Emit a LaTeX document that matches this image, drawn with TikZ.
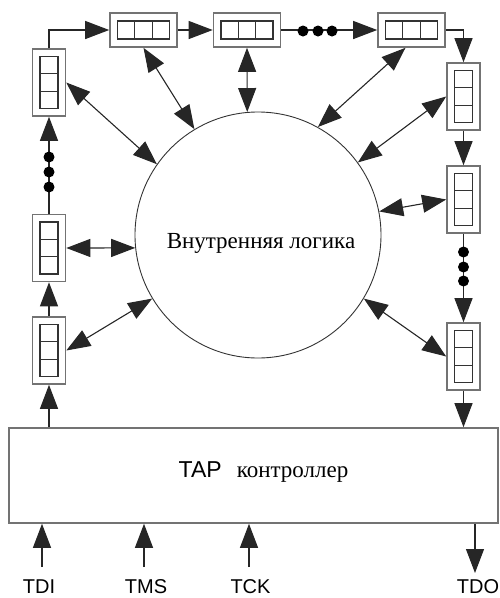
\documentclass[tikz,border=0pt]{standalone}
\usepackage{fontspec}
\setmainfont{Liberation Serif}
\setsansfont{Liberation Sans}
\usetikzlibrary{arrows.meta}
\newcommand\hcells[1]{\foreach \i in {0,1,2}{\draw[cell] ([shift={(-26+17.33*\i,-9)}]#1.center) rectangle ++(17.33,18);}}
\newcommand\vcells[1]{\foreach \i in {0,1,2}{\draw[cell] ([shift={(-9,-26+17.33*\i)}]#1.center) rectangle ++(18,17.33);}}
\begin{document}
\begin{tikzpicture}[x=1pt,y=-1pt,
  line width=1.1pt,
  arr/.style={draw=black!85, -{Triangle[length=24pt,width=18pt]}},
  biarr/.style={draw=black!85, {Triangle[length=24pt,width=18pt]}-{Triangle[length=24pt,width=18pt]}},
  hreg/.style={draw=black!55, line width=1.6pt, minimum width=67pt, minimum height=34pt, inner sep=0pt},
  vreg/.style={draw=black!55, line width=1.6pt, minimum width=33pt, minimum height=67pt, inner sep=0pt},
  cell/.style={draw=black!80, line width=1.2pt},
  dotm/.style={circle, fill=black, inner sep=0pt, minimum size=11pt},
  lbl/.style={font=\sffamily\fontsize{20}{24}\selectfont, anchor=base, inner sep=0pt}
]
\useasboundingbox (0,0) rectangle (499,598);

% core logic
\node[circle, draw=black!80, line width=0.9pt, minimum size=246pt, inner sep=0pt] (core) at (258,235) {};
\node[font=\fontsize{23}{26}\selectfont, anchor=base, inner sep=0pt] (coretext) at (261,248) {Внутренняя логика};

% registers
\node[hreg] (T1) at (143.5,30) {};
\node[hreg] (T2) at (247,30) {};
\node[hreg] (T3) at (411.5,30) {};
\node[vreg] (L1) at (49,82.5) {};
\node[vreg] (L2) at (49,248) {};
\node[vreg] (L3) at (49,350.5) {};
\node[vreg] (R1) at (463.5,96.5) {};
\node[vreg] (R2) at (463.5,199.5) {};
\node[vreg] (R3) at (463.5,356.5) {};
\hcells{T1}\hcells{T2}\hcells{T3}
\vcells{L1}\vcells{L2}\vcells{L3}
\vcells{R1}\vcells{R2}\vcells{R3}

% TAP controller
\node[draw=black!55, line width=1.6pt, minimum width=489pt, minimum height=95pt, inner sep=0pt] (tap) at (253.5,475.5) {};
\node[anchor=base, inner sep=0pt] (taptext) at (263.5,477) {{\sffamily\fontsize{23}{26}\selectfont TAP}\hspace{15pt}{\fontsize{23}{26}\selectfont контроллер}};

% chain
\draw[arr] (L1.north) |- (T1.west);
\draw[arr] (T1.east) -- (T2.west);
\draw[arr] (T2.east) -- (T3.west);
\node[dotm] (hd1) at (303,31) {};
\node[dotm] (hd2) at (318,31) {};
\node[dotm] (hd3) at (332,31) {};
\draw[arr] (T3.east) -| (R1.north);
\draw[arr] (R1.south) -- (R2.north);
\draw[arr] (R2.south) -- (R3.north);
\node[dotm] (rd1) at (463.5,252) {};
\node[dotm] (rd2) at (463.5,267) {};
\node[dotm] (rd3) at (463.5,281) {};
\draw[arr] (R3.south) -- (R3.south |- tap.north);
\draw[arr] (L3.south |- tap.north) -- (L3.south);
\draw[arr] (L3.north) -- (L2.south);
\draw[arr] (L2.north) -- (L1.south);
\node[dotm] (ld1) at (49,157) {};
\node[dotm] (ld2) at (49,172) {};
\node[dotm] (ld3) at (49,187) {};

% links to core
\draw[biarr] (L1.east) -- (core.145);
\draw[biarr] (T1.south) -- (core.121);
\draw[biarr] (T2.south) -- (core.95);
\draw[biarr] ([xshift=-6pt]T3.south) -- (core.61);
\draw[biarr] (R1.west) -- (core.36);
\draw[biarr] (R2.west) -- (core.11);
\draw[biarr] (R3.west) -- (core.-31);
\draw[biarr] (L2.east) -- (core.186);
\draw[biarr] (L3.east) -- (core.211);

% pins
\coordinate (tdiin) at (42,567);
\coordinate (tmsin) at (144,567);
\coordinate (tckin) at (249,567);
\coordinate (tdoout) at (475,573);
\draw[arr] (tdiin) -- (tdiin |- tap.south);
\draw[arr] (tmsin) -- (tmsin |- tap.south);
\draw[arr] (tckin) -- (tckin |- tap.south);
\draw[arr] (tdoout |- tap.south) -- (tdoout);
\node[lbl] (tdi) at (39,593) {TDI};
\node[lbl] (tms) at (146,593) {TMS};
\node[lbl] (tck) at (250.5,593) {TCK};
\node[lbl] (tdo) at (478,593) {TDO};
\end{tikzpicture}
\end{document}
